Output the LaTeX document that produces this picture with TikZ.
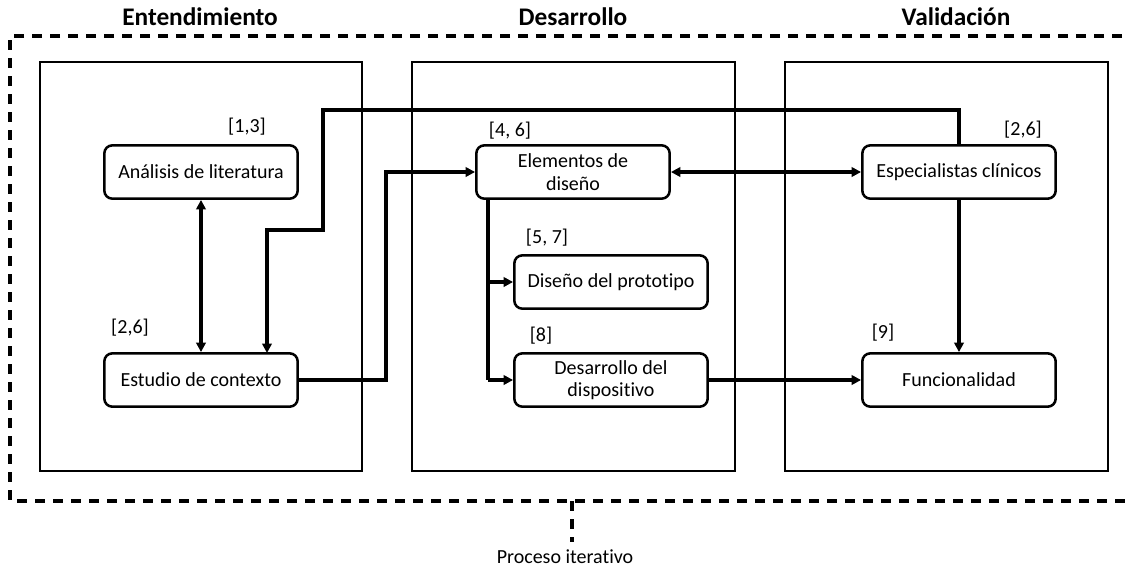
\documentclass[tikz,border=0pt]{standalone}
\usepackage{fontspec}
\setmainfont{Carlito}[Ligatures=NoCommon]
\usetikzlibrary{arrows.meta}
\begin{document}
\begin{tikzpicture}[x=0.75pt,y=-0.75pt,
  phase/.style={draw,line width=2pt},
  outer/.style={draw,line width=2.3pt,dash pattern=on 7.5pt off 6pt},
  card/.style={draw,line width=1.9pt,rounded corners=6pt,minimum width=145pt,minimum height=40pt,align=center,font=\fontsize{15}{17}\selectfont,inner sep=2pt},
  ref/.style={font=\fontsize{15}{17}\selectfont,inner sep=0pt},
  title/.style={font=\bfseries\fontsize{19}{22}\selectfont,inner sep=0pt},
  conn/.style={line width=2.3pt,-{Triangle[length=7pt,width=7pt]}},
  dconn/.style={line width=2.3pt,{Triangle[length=7pt,width=7pt]}-{Triangle[length=7pt,width=7pt]}},
  plain/.style={line width=2.3pt}]
\useasboundingbox (0,0) rectangle (1128,569);
% outer dashed frame
\draw[outer] (1140,36) -- (10,36) -- (10,501) -- (1140,501);
\coordinate (itop) at (572,501);
\coordinate (ibot) at (572,542);
\draw[outer] (itop) -- (ibot);
\node[ref] (iter) at (565,557) {Proceso iterativo};
% titles
\node[title] (t1) at (200,17) {Entendimiento};
\node[title] (t2) at (573,17) {Desarrollo};
\node[title] (t3) at (956,17) {Validación};
% phase boxes
\draw[phase] (40,62) rectangle (362,471);
\draw[phase] (412,62) rectangle (735,471);
\draw[phase] (785,62) rectangle (1108,471);
% nodes
\node[card] (ana) at (201,172) {Análisis de literatura};
\node[card] (est) at (201,380) {Estudio de contexto};
\node[card] (ele) at (573,172) {Elementos de\\diseño};
\node[card] (dis) at (611,282) {Diseño del prototipo};
\node[card] (des) at (611,380) {Desarrollo del\\dispositivo};
\node[card] (esp) at (959,172) {Especialistas clínicos};
\node[card] (fun) at (959,380) {Funcionalidad};
% references
\node[ref] (r1) at (247,127) {[1,3]};
\node[ref] (r2) at (130,328) {[2,6]};
\node[ref] (r3) at (510,131) {[4, 6]};
\node[ref] (r4) at (547,238) {[5, 7]};
\node[ref] (r5) at (541,336) {[8]};
\node[ref] (r6) at (1023,130) {[2,6]};
\node[ref] (r7) at (883,333) {[9]};
% connectors
\draw[dconn] (ana.south) -- (est.north);
\draw[conn] (est.east) -- (386,380) -- (386,172) -- (ele.west);
\draw[dconn] (ele.east) -- (esp.west);
\draw[conn] (esp.north) -- (959,110) -- (323,110) -- (323,230) -- (267,230) -- (267,353);
\coordinate (bx) at (488,199);
\draw[plain] (bx) -- (488,380);
\draw[conn] (488,282) -- (dis.west);
\draw[conn] (488,380) -- (des.west);
\draw[conn] (esp.south) -- (fun.north);
\draw[conn] (des.east) -- (fun.west);
\end{tikzpicture}
\end{document}
